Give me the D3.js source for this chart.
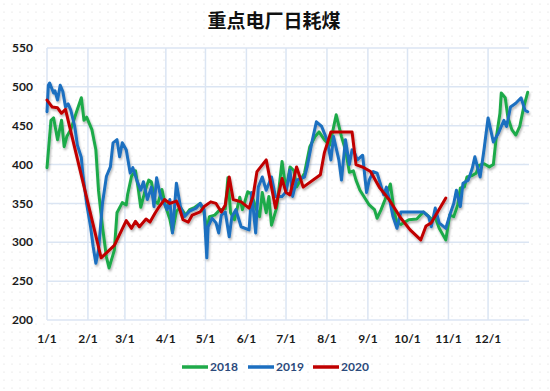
<!DOCTYPE html>
<html>
<head>
<meta charset="utf-8">
<script src="https://cdn.jsdelivr.net/npm/d3@7"></script>
<style>
  body { margin: 0; background: #fff; }
  svg { display: block; }
</style>
</head>
<body>
<div id="chart"></div>
<script>
// day of year (0 = 1/1) and daily coal use
var days2018 = [0,3,5,8,11,13,15,18,22,26,28,30,34,37,39,42,45,47,51,53,57,60,61,64,67,69,71,74,77,79,82,84,87,90,93,95,98,101,105,108,112,116,119,121,123,127,131,135,137,139,142,146,148,152,155,158,161,163,166,168,170,174,178,181,184,187,189,192,195,199,203,206,210,214,216,219,223,226,229,232,234,237,240,244,248,250,253,256,260,263,265,268,274,280,285,288,291,294,297,301,302,305,308,311,313,316,318,322,325,327,331,335,338,340,343,344,347,349,352,355,358,361,364];
var vals2018 = [396,457,460,432,457,423,436,445,466,486,457,461,445,419,367,320,281,267,290,338,351,348,361,385,392,370,345,365,380,378,352,350,368,345,330,313,340,345,335,342,345,350,338,316,333,335,342,343,383,338,329,358,342,365,362,345,333,364,338,359,322,345,404,367,397,392,371,380,389,423,436,442,432,425,440,464,436,419,390,392,380,367,359,348,342,331,342,355,375,339,325,323,329,330,339,335,330,332,318,306,303,335,333,348,370,371,384,386,389,399,401,397,400,432,466,492,486,461,445,438,449,474,493];

var days2019 = [0,1,2,5,6,8,10,12,14,16,18,21,23,26,27,30,33,35,37,39,42,45,48,50,53,55,57,60,63,65,68,71,73,76,79,81,83,86,91,93,95,98,101,104,108,113,116,119,121,122,125,128,130,132,135,138,140,143,147,153,155,158,160,163,166,170,173,178,181,184,186,189,195,197,201,204,208,212,215,217,221,223,226,229,231,233,235,239,242,244,247,250,255,257,260,262,265,268,280,285,289,291,294,297,302,305,308,310,313,315,319,322,324,328,331,334,338,342,346,348,351,355,359,362,364];
var vals2019 = [468,502,505,492,495,483,502,494,474,478,470,449,425,409,390,350,320,294,273,290,350,385,397,428,432,410,428,419,389,396,380,367,378,355,371,346,383,359,342,355,312,376,346,333,340,344,350,342,280,320,331,325,312,335,339,307,333,342,320,316,364,312,371,384,367,384,359,359,365,393,359,380,384,397,432,455,449,432,406,436,406,380,432,400,419,415,406,412,364,380,391,389,361,371,350,333,318,339,339,339,333,320,344,325,318,335,350,367,346,376,380,395,410,384,420,460,429,441,457,449,474,479,486,470,468];

var days2020 = [0,4,8,11,14,41,51,60,64,67,70,75,78,82,85,89,93,98,100,103,107,110,116,119,124,128,132,135,138,141,147,153,156,159,166,169,173,178,181,184,189,194,207,210,215,231,234,240,245,252,259,268,275,283,287,291,302];
var vals2020 = [483,474,473,466,471,280,296,328,318,327,320,330,326,338,346,355,350,353,345,329,326,335,339,346,352,350,339,348,384,355,352,344,359,391,406,380,344,382,364,361,397,371,387,415,442,442,400,396,391,370,355,331,316,303,321,325,357];

var years = ["2018", "2019", "2020"];
var colors = ["#1FAA4A", "#1C6FC0", "#C00000"];
var monthStarts = [0,31,59,90,120,151,181,212,243,273,304,334];
var monthLabels = ["1/1","2/1","3/1","4/1","5/1","6/1","7/1","8/1","9/1","10/1","11/1","12/1"];
var yTicks = [200,250,300,350,400,450,500,550];

var W = 550, H = 391;
var svg = d3.select("#chart").append("svg")
    .attr("width", W)
    .attr("height", H);

var defs = svg.append("defs");
var pat = defs.append("pattern")
    .attr("id", "dots")
    .attr("width", 8)
    .attr("height", 8)
    .attr("patternUnits", "userSpaceOnUse");
pat.append("circle")
    .attr("cx", 4).attr("cy", 4).attr("r", 0.6)
    .attr("fill", "#d6d6d6");

var shadow = defs.append("filter")
    .attr("id", "shadow")
    .attr("x", "-5%").attr("y", "-5%")
    .attr("width", "110%").attr("height", "120%");
shadow.append("feDropShadow")
    .attr("dx", 1).attr("dy", 2)
    .attr("stdDeviation", 1.2)
    .attr("flood-color", "#000")
    .attr("flood-opacity", 0.3);

svg.append("rect")
    .attr("width", W).attr("height", H)
    .attr("fill", "url(#dots)");

// scales
var x = d3.scaleLinear().domain([0, 365]).range([47, 529]);
var y = d3.scaleLinear().domain([200, 550]).range([320, 48]);

// grid
var grid = svg.append("g");
grid.selectAll(".hgrid")
    .data(yTicks)
    .enter().append("line")
    .attr("x1", x(0)).attr("x2", x(365))
    .attr("y1", function(d){ return y(d); })
    .attr("y2", function(d){ return y(d); })
    .attr("stroke", "#dbe5f3")
    .attr("stroke-width", 1.5);
grid.selectAll(".vgrid")
    .data(monthStarts)
    .enter().append("line")
    .attr("x1", function(d){ return x(d); })
    .attr("x2", function(d){ return x(d); })
    .attr("y1", y(550)).attr("y2", y(200))
    .attr("stroke", "#dbe5f3")
    .attr("stroke-width", 1.5);

// axis labels
var font = "Lato, 'Open Sans', sans-serif";
svg.append("g").selectAll("text")
    .data(yTicks)
    .enter().append("text")
    .attr("x", 33)
    .attr("y", function(d){ return y(d); })
    .attr("dy", "0.35em")
    .attr("text-anchor", "end")
    .attr("font-family", font)
    .attr("font-weight", "bold")
    .attr("font-size", "12px")
    .attr("fill", "#1a1a1a")
    .text(function(d){ return d; });

svg.append("g").selectAll("text")
    .data(monthStarts)
    .enter().append("text")
    .attr("x", function(d){ return x(d); })
    .attr("y", 339)
    .attr("dy", "0.35em")
    .attr("text-anchor", "middle")
    .attr("font-family", font)
    .attr("font-weight", "bold")
    .attr("font-size", "12px")
    .attr("fill", "#1a1a1a")
    .text(function(d, i){ return monthLabels[i]; });

// lines
var series = [
    d3.zip(days2018, vals2018),
    d3.zip(days2019, vals2019),
    d3.zip(days2020, vals2020)
];
var line = d3.line()
    .x(function(d){ return x(d[0]); })
    .y(function(d){ return y(d[1]); });

var lines = svg.append("g").attr("filter", "url(#shadow)");
series.forEach(function(s, i){
    lines.append("path")
        .datum(s)
        .attr("d", line)
        .attr("fill", "none")
        .attr("stroke", colors[i])
        .attr("stroke-width", 3)
        .attr("stroke-linejoin", "round")
        .attr("stroke-linecap", "round");
});

// title
svg.append("text")
    .attr("x", 274)
    .attr("y", 21)
    .attr("dy", "0.35em")
    .attr("text-anchor", "middle")
    .attr("font-family", "'Noto Sans CJK SC', sans-serif")
    .attr("font-weight", "bold")
    .attr("font-size", "19px")
    .attr("fill", "#111")
    .text("重点电厂日耗煤");

// legend
var legendX = [182, 248, 313];
years.forEach(function(yr, i){
    var g = svg.append("g")
        .attr("transform", "translate(" + legendX[i] + ",367)");
    g.append("line")
        .attr("x1", 0).attr("x2", 26)
        .attr("y1", 0).attr("y2", 0)
        .attr("stroke", colors[i])
        .attr("stroke-width", 3.5);
    g.append("text")
        .attr("x", 28)
        .attr("y", 0)
        .attr("dy", "0.35em")
        .attr("font-family", font)
        .attr("font-weight", "bold")
        .attr("font-size", "12px")
        .attr("fill", "#2c4a7c")
        .text(yr);
});
</script>
</body>
</html>
